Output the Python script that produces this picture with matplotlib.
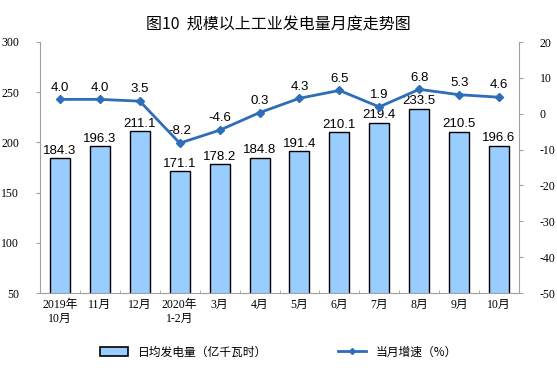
import matplotlib
matplotlib.use("Agg")
import matplotlib.pyplot as plt
from matplotlib.lines import Line2D
from matplotlib.patches import Patch

plt.rcParams['font.family'] = ['Liberation Sans', 'Noto Sans CJK SC', 'DejaVu Sans']

categories = ["2019年\n10月", "11月", "12月", "2020年\n1-2月", "3月", "4月", "5月",
              "6月", "7月", "8月", "9月", "10月"]
daily_output = [184.3, 196.3, 211.1, 171.1, 178.2, 184.8, 191.4, 210.1, 219.4, 233.5, 210.5, 196.6]
growth = [4.0, 4.0, 3.5, -8.2, -4.6, 0.3, 4.3, 6.5, 1.9, 6.8, 5.3, 4.6]
left_ticks = [50, 100, 150, 200, 250, 300]
right_ticks = [-50, -40, -30, -20, -10, 0, 10, 20]

fig = plt.figure(figsize=(5.57, 3.84), dpi=100)
ax = fig.add_axes([40/557, 1-293/384, 479/557, 251/384])
ax2 = ax.twinx()

x = list(range(len(categories)))
ax.bar(x, daily_output, width=0.5, color='#99CCFF', edgecolor='black', linewidth=1.0, zorder=2)
ax.set_ylim(50, 300)
ax.set_xlim(-0.5, len(categories) - 0.5)
ax.set_yticks(left_ticks)
for xi, v in zip(x, daily_output):
    ax.text(xi, v + 1.5, f"{v:.1f}", ha='center', va='bottom', fontsize=9.5, color='black')

line_color = '#2E6DB8'
ax2.plot(x, growth, color=line_color, linewidth=2, marker='D', markersize=4, zorder=3)
ax2.set_ylim(-50, 20)
ax2.set_yticks(right_ticks)
for xi, v in zip(x, growth):
    ax2.text(xi, v + 1.6, f"{v:.1f}", ha='center', va='bottom', fontsize=9.5, color='black')

tick_font = dict(family=['Liberation Serif', 'Noto Sans CJK SC'], size=8.5)
ax.set_yticklabels([str(t) for t in left_ticks], fontdict=tick_font)
ax2.set_yticklabels([str(t) for t in right_ticks], fontdict=tick_font)
ax.set_xticks(x)
ax.set_xticklabels(categories, fontdict=dict(family=['Liberation Serif', 'Noto Sans CJK SC'], size=8.5), linespacing=1.25)
ax.set_xticks([i + 0.5 for i in range(len(categories) - 1)], minor=True)

for a in (ax, ax2):
    a.spines['top'].set_visible(False)
    for s in ('left', 'right', 'bottom'):
        a.spines[s].set_color('#A0A0A0')
ax2.spines['left'].set_visible(False)
ax2.spines['bottom'].set_visible(False)
ax.spines['right'].set_visible(False)
ax.tick_params(axis='y', length=3, color='#A0A0A0', pad=12)
ax2.tick_params(axis='y', length=3, color='#A0A0A0', pad=12)
ax.tick_params(axis='x', which='major', length=0, pad=4)
ax.tick_params(axis='x', which='minor', length=2, direction='in', color='#A0A0A0')

fig.text(0.5, 1-25/384, "图10  规模以上工业发电量月度走势图", ha='center', va='center',
         fontsize=11.5, fontweight='medium', family=['Noto Sans CJK SC', 'DejaVu Sans'])

handles = [Patch(facecolor='#99CCFF', edgecolor='black', linewidth=1.2),
           Line2D([0], [0], color=line_color, linewidth=2, marker='D', markersize=3)]
labels = ["日均发电量（亿千瓦时）", "当月增速（%）"]
fig.legend(handles, labels, loc='center', bbox_to_anchor=(0.5, 1-352/384), ncol=2,
           frameon=False, columnspacing=6, handlelength=2.4, handleheight=0.7,
           prop=dict(family=['Noto Sans CJK SC', 'DejaVu Sans'], size=8.5))

fig.savefig("out.png", dpi=100)
